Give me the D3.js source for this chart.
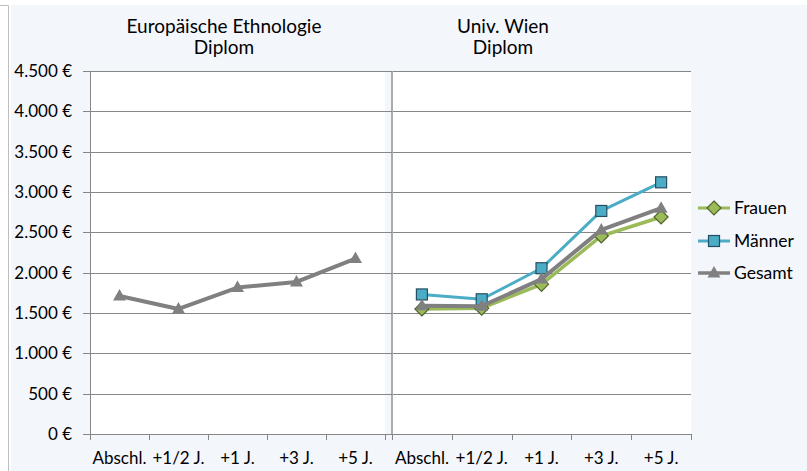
<!DOCTYPE html>
<html>
<head>
<meta charset="utf-8">
<script src="https://cdn.jsdelivr.net/npm/d3@7"></script>
<style>
  body { margin: 0; background: #fff; }
  svg { display: block; font-family: Lato, "Open Sans", sans-serif; }
  .axis path, .axis line { stroke: #868686; shape-rendering: crispEdges; }
  .axis text { font-size: 17px; fill: #000; font-family: Lato, sans-serif; }
</style>
</head>
<body>
<div id="chart"></div>
<script>
// values
const categories = ['Abschl.', '+1/2 J.', '+1 J.', '+3 J.', '+5 J.'];
const ethnoGesamt = [1710, 1550, 1815, 1885, 2175];
const wienFrauen = [1550, 1560, 1855, 2455, 2690];
const wienMaenner = [1730, 1670, 2055, 2765, 3120];
const wienGesamt = [1590, 1585, 1920, 2530, 2800];
const yTicks = [0, 500, 1000, 1500, 2000, 2500, 3000, 3500, 4000, 4500];
const leftTitle = ['Europäische Ethnologie', 'Diplom'];
const rightTitle = ['Univ. Wien', 'Diplom'];
const legendNames = ['Frauen', 'Männer', 'Gesamt'];

const W = 807, H = 471;
const svg = d3.select('#chart').append('svg')
	.attr('width', W)
	.attr('height', H);

// outer frame
svg.append('rect').attr('x', 11).attr('y', 5).attr('width', W - 11).attr('height', H - 5).attr('fill', '#F3F6FB');
svg.append('path').attr('d', 'M0,5.5H8.5V471').attr('fill', 'none').attr('stroke', '#BDBDBD');

const plotTop = 71, plotBottom = 434;
const scaleY = d3.scaleLinear().domain([0, 4500]).range([plotBottom, plotTop]);
const fmt = d => d3.format(',')(d).replace(/,/g, '.') + ' €';

const colors = {frauen: '#9BBB59', maenner: '#4BACC6', gesamt: '#808080'};

function marker(g, type, x, y) {
	if (type === 'diamond') {
		g.append('path')
			.attr('d', `M${x},${y - 7}L${x + 7},${y}L${x},${y + 7}L${x - 7},${y}Z`)
			.attr('fill', '#9BBB59').attr('stroke', '#4F6228').attr('stroke-width', 1.2);
	} else if (type === 'square') {
		g.append('rect')
			.attr('x', x - 5.5).attr('y', y - 5.5).attr('width', 11).attr('height', 11)
			.attr('fill', '#4BACC6').attr('stroke', '#254E62').attr('stroke-width', 1.2);
	} else {
		g.append('path')
			.attr('d', `M${x},${y - 7}L${x + 6.5},${y + 4.5}L${x - 6.5},${y + 4.5}Z`)
			.attr('fill', '#808080');
	}
}

function panel(x0, x1, title, titleX, series, showLabels) {
	const plot = svg.append('g');
	plot.append('rect').attr('x', x0).attr('y', plotTop).attr('width', x1 - x0).attr('height', plotBottom - plotTop).attr('fill', '#fff');

	const scaleX = d3.scaleBand().domain(categories).range([x0, x1]);

	// gridlines
	plot.selectAll('.grid')
		.data(yTicks.filter(d => d > 0))
		.enter().append('line')
		.attr('class', 'grid')
		.attr('x1', x0).attr('x2', x1)
		.attr('y1', d => Math.round(scaleY(d)) + 0.5)
		.attr('y2', d => Math.round(scaleY(d)) + 0.5)
		.attr('stroke', '#868686');

	// y axis
	const axisY = d3.axisLeft(scaleY)
		.tickValues(yTicks)
		.tickSize(7)
		.tickPadding(11)
		.tickFormat(showLabels ? fmt : '');
	const yNode = plot.append('g')
		.attr('class', 'axis axis-y')
		.attr('transform', `translate(${x0},0)`)
		.call(axisY);
	yNode.select('.domain').attr('d', `M0,${plotTop}V${plotBottom}`);
	if (!showLabels) yNode.select('.domain').style('stroke', '#ABABAB').style('stroke-width', 2);

	// x axis: boundary ticks
	const scaleI = d3.scaleLinear().domain([0, categories.length]).range([x0, x1]);
	plot.append('g')
		.attr('class', 'axis axis-x')
		.attr('transform', `translate(0,${plotBottom})`)
		.call(d3.axisBottom(scaleI).tickValues(d3.range(categories.length + 1)).tickSize(6).tickFormat(''));
	plot.append('g')
		.attr('class', 'axis axis-x-labels')
		.attr('transform', `translate(0,${plotBottom})`)
		.call(d3.axisBottom(scaleX).tickSize(0).tickPadding(18))
		.call(g => g.select('.domain').remove());

	// title
	plot.append('text')
		.attr('x', titleX).attr('y', 33)
		.attr('text-anchor', 'middle')
		.style('font-size', '19px')
		.selectAll('tspan')
		.data(title)
		.enter().append('tspan')
		.attr('x', titleX)
		.attr('dy', (d, i) => i ? 21 : 0)
		.text(d => d);

	const line = d3.line()
		.x((d, i) => scaleX(categories[i]) + scaleX.bandwidth() / 2)
		.y(d => scaleY(d));

	series.forEach(s => {
		plot.append('path')
			.datum(s.values)
			.attr('d', line)
			.attr('fill', 'none')
			.attr('stroke', s.color)
			.attr('stroke-width', s.width)
			.attr('stroke-linejoin', 'round');
		const mg = plot.append('g');
		s.values.forEach((v, i) => marker(mg, s.marker, scaleX(categories[i]) + scaleX.bandwidth() / 2, scaleY(v)));
	});
}

panel(90, 385, leftTitle, 224, [
	{values: ethnoGesamt, color: colors.gesamt, width: 4, marker: 'triangle'}
], true);

panel(392, 691, rightTitle, 503, [
	{values: wienFrauen, color: colors.frauen, width: 3.5, marker: 'diamond'},
	{values: wienMaenner, color: colors.maenner, width: 3, marker: 'square'},
	{values: wienGesamt, color: colors.gesamt, width: 4, marker: 'triangle'}
], false);

// legend
const legend = svg.append('g');
const legendY = [208, 241, 273];
const legendStyle = [
	{color: colors.frauen, marker: 'diamond', width: 3},
	{color: colors.maenner, marker: 'square', width: 3},
	{color: colors.gesamt, marker: 'triangle', width: 3.5}
];
legendNames.forEach((name, i) => {
	legend.append('line')
		.attr('x1', 698).attr('x2', 730)
		.attr('y1', legendY[i]).attr('y2', legendY[i])
		.attr('stroke', legendStyle[i].color)
		.attr('stroke-width', legendStyle[i].width);
	marker(legend, legendStyle[i].marker, 714, legendY[i]);
	legend.append('text')
		.attr('x', 734).attr('y', legendY[i] + 6)
		.style('font-size', '17.5px')
		.text(name);
});
</script>
</body>
</html>
